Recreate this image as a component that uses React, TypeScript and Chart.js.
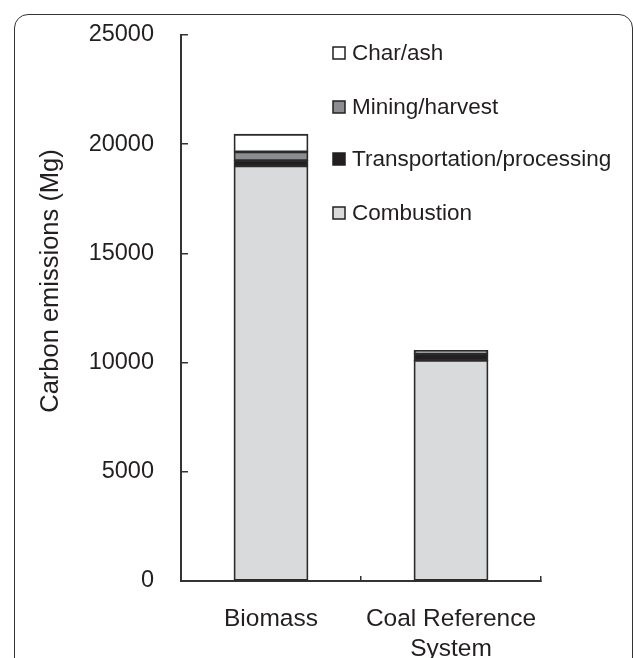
import React, { useEffect, useRef } from "react";
import { Chart, registerables } from "chart.js";

Chart.register(...registerables);

const categories: (string | string[])[] = ["Biomass", ["Coal Reference", "System"]];
const combustion = [19000, 10100];
const transportation = [250, 300];
const mining = [400, 150];
const charAsh = [800, 0];
const yTicks = [0, 5000, 10000, 15000, 20000, 25000];

const seriesNames = ["Combustion", "Transportation/processing", "Mining/harvest", "Char/ash"];
const seriesColors = ["#d9dadc", "#231f20", "#8c8d90", "#ffffff"];

const FONT = "'Liberation Sans', Arial, Helvetica, sans-serif";
const INK = "#231f20";

const overlayPlugin = {
  id: "overlay",
  afterDraw(chart: any) {
    const ctx = chart.ctx;
    ctx.save();
    ctx.fillStyle = INK;
    ctx.font = `25.5px ${FONT}`;
    ctx.textAlign = "center";
    ctx.textBaseline = "middle";
    ctx.translate(51, 281);
    ctx.rotate(-Math.PI / 2);
    ctx.fillText("Carbon emissions (Mg)", 0, 0);
    ctx.restore();

    ctx.save();
    const ds = chart.data.datasets;
    const rows = [53, 107, 159, 213];
    const order = [3, 2, 1, 0];
    order.forEach((di, i) => {
      const y = rows[i];
      ctx.fillStyle = ds[di].backgroundColor;
      ctx.fillRect(333, y - 6, 12, 12);
      ctx.strokeStyle = INK;
      ctx.lineWidth = 1.5;
      ctx.strokeRect(333, y - 6, 12, 12);
      ctx.fillStyle = INK;
      ctx.font = `22.5px ${FONT}`;
      ctx.textAlign = "left";
      ctx.textBaseline = "middle";
      ctx.fillText(ds[di].label, 352, y + 1);
    });
    ctx.restore();
  },
};

export default function App() {
  const ref = useRef<HTMLCanvasElement | null>(null);

  useEffect(() => {
    if (!ref.current) return;
    const values = [combustion, transportation, mining, charAsh];
    const chart = new Chart(ref.current, {
      type: "bar",
      data: {
        labels: categories as any,
        datasets: values.map((v, i) => ({
          label: seriesNames[i],
          data: v,
          backgroundColor: seriesColors[i],
          borderColor: "#2b2a2a",
          borderWidth: 1.8,
          borderSkipped: false,
          inflateAmount: 0.5,
          barPercentage: 0.41,
          categoryPercentage: 1,
        })),
      },
      options: {
        animation: false,
        responsive: true,
        maintainAspectRatio: false,
        layout: { padding: { top: 35, right: 92, left: 0, bottom: 0 } },
        plugins: {
          legend: { display: false },
          tooltip: { enabled: false },
        },
        scales: {
          x: {
            stacked: true,
            offset: true,
            grid: {
              display: true,
              offset: true,
              drawOnChartArea: false,
              drawTicks: true,
              tickLength: -5,
              color: "#333",
              lineWidth: 1.5,
            },
            border: { display: true, color: "#333", width: 2 },
            ticks: {
              color: INK,
              font: { family: FONT, size: 24.5 },
              padding: 29,
              maxRotation: 0,
              autoSkip: false,
            },
            afterFit(scale: any) {
              scale.height = 77;
              scale.paddingLeft = 0;
              scale.paddingRight = 0;
            },
          },
          y: {
            stacked: true,
            min: 0,
            max: 25000,
            afterBuildTicks(scale: any) {
              scale.ticks = yTicks.map((v) => ({ value: v }));
            },
            grid: {
              display: true,
              drawOnChartArea: false,
              drawTicks: true,
              tickLength: -7,
              color: "#333",
              lineWidth: 1.5,
            },
            border: { display: true, color: "#333", width: 2 },
            ticks: {
              color: INK,
              font: { family: FONT, size: 23.5 },
              padding: 34,
              callback: (v: any) => String(v),
            },
            afterFit(scale: any) {
              scale.width = 181;
              scale.paddingTop = 0;
              scale.paddingBottom = 0;
            },
          },
        },
      },
      plugins: [overlayPlugin],
    });
    return () => chart.destroy();
  }, []);

  return (
    <div
      style={{
        position: "fixed",
        left: 0,
        top: 0,
        width: 633,
        height: 658,
        overflow: "hidden",
        background: "#fff",
      }}
    >
      <div
        style={{
          position: "absolute",
          left: 14,
          top: 14,
          width: 619,
          height: 720,
          border: "1.5px solid #333",
          borderRadius: 14,
          boxSizing: "border-box",
          pointerEvents: "none",
        }}
      />
      <canvas ref={ref} style={{ position: "absolute", left: 0, top: 0 }} />
    </div>
  );
}
